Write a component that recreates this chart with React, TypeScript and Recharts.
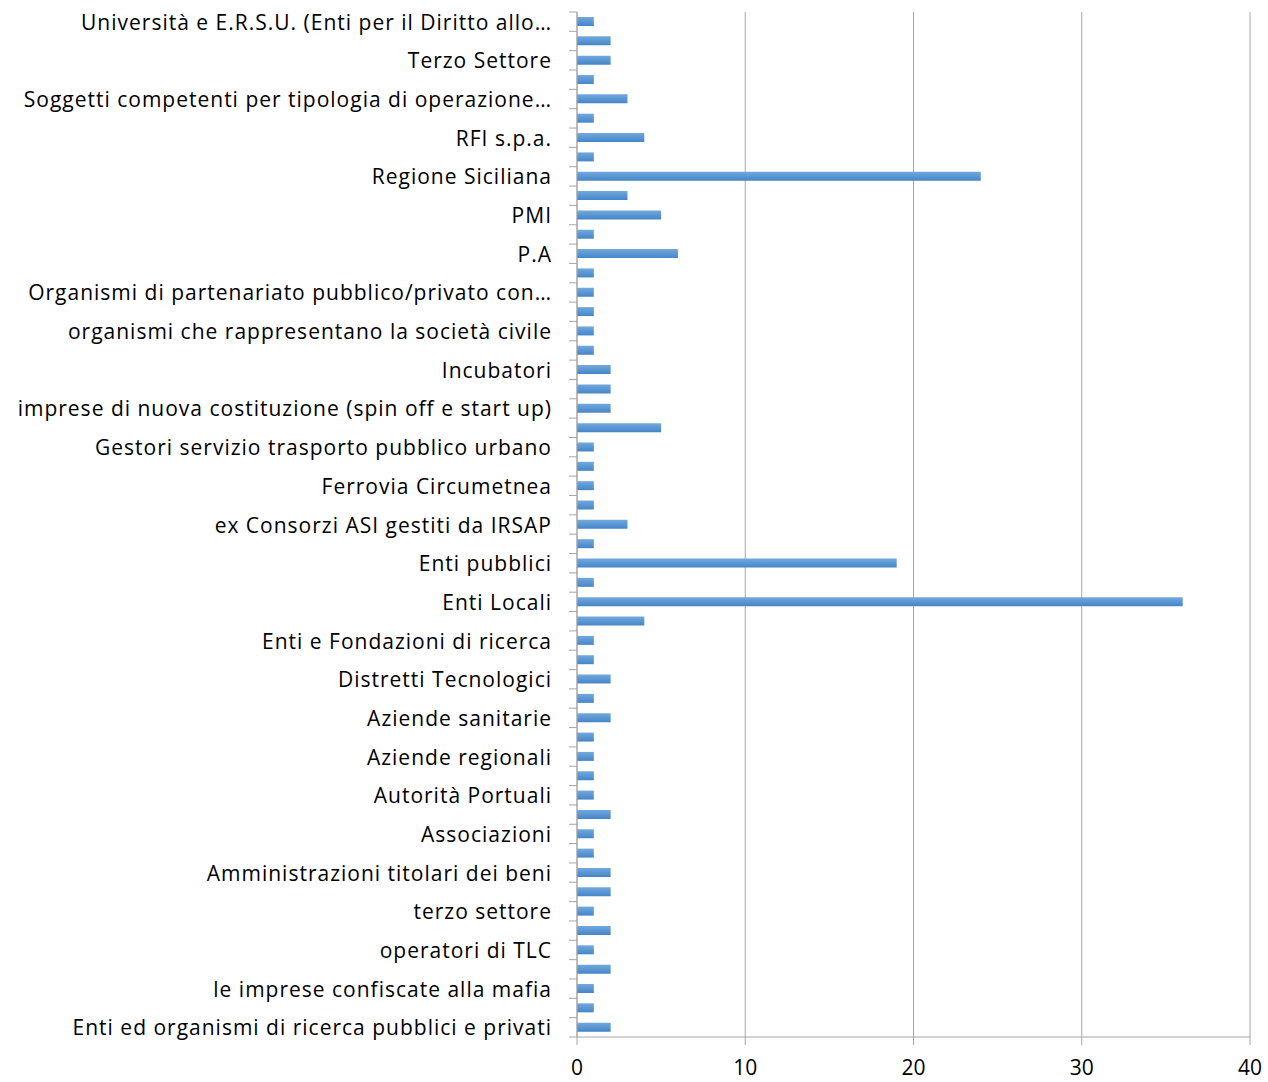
import React from 'react'
import { BarChart, Bar, XAxis, YAxis, CartesianGrid } from 'recharts'

// visible labels (every other category, top to bottom)
const labels = [
  'Università e E.R.S.U. (Enti per il Diritto allo…',
  'Terzo Settore',
  'Soggetti competenti per tipologia di operazione…',
  'RFI s.p.a.',
  'Regione Siciliana',
  'PMI',
  'P.A',
  'Organismi di partenariato pubblico/privato con…',
  'organismi che rappresentano la società civile',
  'Incubatori',
  'imprese di nuova costituzione (spin off e start up)',
  'Gestori servizio trasporto pubblico urbano',
  'Ferrovia Circumetnea',
  'ex Consorzi ASI gestiti da IRSAP ',
  'Enti pubblici',
  'Enti Locali',
  'Enti e Fondazioni di ricerca',
  'Distretti Tecnologici',
  'Aziende sanitarie',
  'Aziende regionali',
  'Autorità Portuali',
  'Associazioni',
  'Amministrazioni titolari dei beni',
  'terzo settore',
  'operatori di TLC',
  'le imprese confiscate alla mafia',
  'Enti ed organismi di ricerca pubblici e privati'
]

// all 53 bars, top to bottom
const values = [
  1, 2, 2, 1, 3, 1, 4, 1, 24, 3,
  5, 1, 6, 1, 1, 1, 1, 1, 2, 2,
  2, 5, 1, 1, 1, 1, 3, 1, 19, 1,
  36, 4, 1, 1, 2, 1, 2, 1, 1, 1,
  1, 2, 1, 1, 2, 2, 1, 2, 1, 2,
  1, 1, 2
]

const xTicks = [0, 10, 20, 30, 40]

const data = values.map((v, i) => ({
  idx: i,
  name: i % 2 === 0 ? labels[i / 2] : '',
  value: v
}))

const W = 1268
const H = 1082
const TOP = 12
const XAXIS_H = 45
const AXIS_X = 577
const BAND = (H - TOP - XAXIS_H) / values.length
const GREY = '#A6A6A6'
const FONT = 'Open Sans'

function YTick(props: any) {
  const { y, payload } = props
  const i = payload.value as number
  const top = y - BAND / 2
  return (
    <g>
      <line x1={AXIS_X - 8} x2={AXIS_X} y1={top} y2={top} stroke={GREY} />
      {i === values.length - 1 && (
        <line x1={AXIS_X - 8} x2={AXIS_X} y1={top + BAND} y2={top + BAND} stroke={GREY} />
      )}
      {data[i].name && (
        <text x={552} y={y} dy={0} textAnchor="end" dominantBaseline="central"
          fontFamily={FONT} fontSize={21} letterSpacing={1} fill="#000">
          {data[i].name}
        </text>
      )}
    </g>
  )
}

export default function App() {
  return (
    <div style={{ position: 'absolute', left: 0, top: 0 }}>
      <BarChart width={W} height={H} data={data} layout="vertical"
        margin={{ top: TOP, right: 18, bottom: 0, left: 0 }}>
        <defs>
          <linearGradient id="barFill" x1="0" y1="0" x2="0" y2="1">
            <stop offset="0%" stopColor="#72A9DE" />
            <stop offset="100%" stopColor="#4585C7" />
          </linearGradient>
        </defs>
        <CartesianGrid horizontal={false} stroke={GREY} />
        <XAxis type="number" domain={[0, 40]} ticks={xTicks} height={XAXIS_H}
          axisLine={{ stroke: GREY }} tickLine={{ stroke: GREY }} tickSize={8} tickMargin={15}
          tick={{ fill: '#000', fontSize: 21, fontFamily: FONT }} />
        <YAxis type="category" dataKey="idx" width={AXIS_X} interval={0}
          axisLine={{ stroke: GREY }} tickLine={false} tick={<YTick />} />
        <Bar dataKey="value" fill="url(#barFill)" barSize={9} isAnimationActive={false} />
      </BarChart>
    </div>
  )
}
